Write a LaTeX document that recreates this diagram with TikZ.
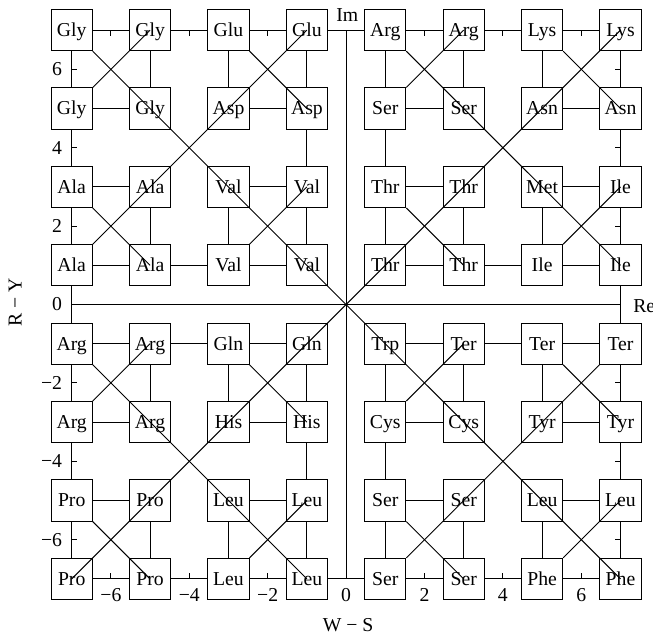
\documentclass[tikz,border=0pt]{standalone}
\usepackage{fontspec}
\setmainfont{Liberation Serif}
\begin{document}
\begin{tikzpicture}[x=1cm,y=1cm,
  box/.style={draw, line width=0.7pt, minimum size=1.05cm, inner sep=0pt,
    text height=9.4pt, text depth=0pt, font=\fontsize{14.3}{17}\selectfont},
  conn/.style={line width=0.7pt},
  tick/.style={line width=0.7pt},
  lbl/.style={inner sep=0pt, font=\fontsize{14.3}{17}\selectfont}]
\useasboundingbox (-8.829,-8.482) rectangle (7.829,7.768);

% boxes: column i (x = 2i-9), row j (y = 9-2j)
\foreach \row [count=\j] in {
  {Gly,Gly,Glu,Glu,Arg,Arg,Lys,Lys},
  {Gly,Gly,Asp,Asp,Ser,Ser,Asn,Asn},
  {Ala,Ala,Val,Val,Thr,Thr,Met,Ile},
  {Ala,Ala,Val,Val,Thr,Thr,Ile,Ile},
  {Arg,Arg,Gln,Gln,Trp,Ter,Ter,Ter},
  {Arg,Arg,His,His,Cys,Cys,Tyr,Tyr},
  {Pro,Pro,Leu,Leu,Ser,Ser,Leu,Leu},
  {Pro,Pro,Leu,Leu,Ser,Ser,Phe,Phe}} {
  \foreach \lab [count=\i] in \row {
    \node[box] (p\i\j) at ({2*\i-9},{9-2*\j}) {\lab};
  }
}

% axes
\coordinate (xl) at (-7,0);
\coordinate (xr) at (7,0);
\coordinate (yt) at (0,7);
\coordinate (yb) at (0,-7);
\draw[conn] (xl) -- (xr);
\draw[conn] (yb) -- (yt);

% horizontal connections
\foreach \j in {1,...,8} {
  \foreach \i/\k in {1/2,3/4,5/6,7/8} { \draw[conn] (p\i\j) -- (p\k\j); }
}
\foreach \j in {1,8} {
  \foreach \i/\k in {2/3,4/5,6/7} { \draw[conn] (p\i\j) -- (p\k\j); }
}
\foreach \j in {4,5} {
  \foreach \i/\k in {2/3,6/7} { \draw[conn] (p\i\j) -- (p\k\j); }
}
% vertical connections
\foreach \i in {1,...,8} {
  \foreach \j/\k in {1/2,3/4,5/6,7/8} { \draw[conn] (p\i\j) -- (p\i\k); }
}
\foreach \i in {1,8} {
  \foreach \j/\k in {2/3,4/5,6/7} { \draw[conn] (p\i\j) -- (p\i\k); }
}
\foreach \i in {4,5} {
  \foreach \j/\k in {2/3,6/7} { \draw[conn] (p\i\j) -- (p\i\k); }
}

% diagonals
\foreach \a/\b in {12/21,31/42,13/24,34/43,14/41,11/88,
                   52/61,71/82,53/64,74/83,51/84,
                   16/25,35/46,17/28,38/47,15/48,
                   56/65,75/86,57/68,78/87} {
  \draw[conn] (p\a) -- (p\b.center);
}
\draw[conn] (p18.center) -- (p81.center);
\draw[conn] (p58) -- (p85);

% ticks
\foreach \t in {-6,-4,-2,2,4,6} {
  \draw[tick] (\t,7) -- ++(0,-0.14);
  \draw[tick] (\t,-7) -- ++(0,0.14);
  \draw[tick] (-7,\t) -- ++(0.14,0);
  \draw[tick] (7,\t) -- ++(-0.14,0);
}

% tick labels
\foreach \t/\s in {-6/−6,-4/−4,-2/−2,0/0,2/2,4/4,6/6} {
  \node[lbl, anchor=east] (ly\t) at (-7.24,\t) {\s};
  \node[lbl] (lx\t) at (\t,-7.42) {\s};
}

% axis labels
\node[lbl] (im) at (0.03,7.38) {Im};
\node[lbl, anchor=west] (re) at (7.32,-0.05) {Re};
\node[lbl] (ws) at (0.05,-8.18) {W − S};
\node[lbl, rotate=90] (ry) at (-8.44,0.05) {R − Y};
\end{tikzpicture}
\end{document}
